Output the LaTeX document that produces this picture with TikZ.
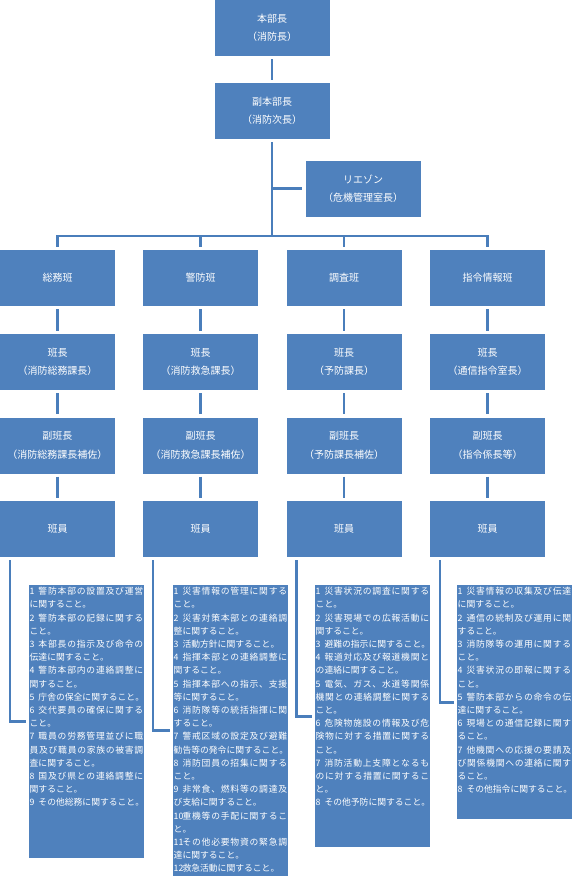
\documentclass[tikz,border=0pt]{standalone}
\usepackage{fontspec}
\setmainfont{Noto Sans CJK JP}
\definecolor{boxblue}{HTML}{4F81BD}
\definecolor{lineblue}{HTML}{4A7EBB}
% justified (spread) line: #1 number, #2 text
\newcommand\jl[2]{\makebox[113.5pt][s]{\makebox[1em][l]{#1}\jlaux#2\relax}}
% justified continuation line without number
\newcommand\jc[1]{\makebox[113.5pt][s]{\jlaux#1\relax}}
\def\jlaux#1#2{#1\ifx#2\relax\else\hfil\expandafter\jlaux\expandafter#2\fi}
% last (ragged) line with number
\newcommand\jn[2]{\makebox[1em][l]{#1}#2}
\begin{document}
\begin{tikzpicture}[x=1pt,y=-1pt,
  box/.style={fill=boxblue, draw=none, text=white, minimum width=115pt, minimum height=56pt, inner sep=0pt, align=center, font=\fontsize{10}{18.5}\selectfont},
  lw/.style={draw=lineblue, line width=2.6pt},
  conn/.style={lw, shorten <=3pt, shorten >=3pt},
  listbox/.style={fill=boxblue, draw=none, minimum width=115pt, inner sep=0pt, anchor=north west},
  listtext/.style={text=white, align=left, inner sep=0pt, anchor=north west, font=\fontsize{8.8}{13.2}\selectfont}
]
\useasboundingbox (0,0) rectangle (571,876);

% top
\node[box] (hb) at (272,28) {本部長\\（消防長）};
\node[box] (fhb) at (272,111) {副本部長\\（消防次長）};
\node[box] (li) at (363,188.5) {リエゾン\\（危機管理室長）};
\coordinate (bar) at (272,236);

% teams
\node[box] (t1) at (57.5,278) {総務班};
\node[box] (t2) at (200.5,278) {警防班};
\node[box] (t3) at (344,278) {調査班};
\node[box] (t4) at (487.5,278) {指令情報班};

\node[box] (h1) at (57.5,362) {班長\\（消防総務課長）};
\node[box] (h2) at (200.5,362) {班長\\（消防救急課長）};
\node[box] (h3) at (344,362) {班長\\（予防課長）};
\node[box] (h4) at (487.5,362) {班長\\（通信指令室長）};

\node[box] (s1) at (57.5,445.5) {副班長\\（消防総務課長補佐）};
\node[box] (s2) at (200.5,445.5) {副班長\\（消防救急課長補佐）};
\node[box] (s3) at (344,445.5) {副班長\\（予防課長補佐）};
\node[box] (s4) at (487.5,445.5) {副班長\\（指令係長等）};

\node[box] (m1) at (57.5,529) {班員};
\node[box] (m2) at (200.5,529) {班員};
\node[box] (m3) at (344,529) {班員};
\node[box] (m4) at (487.5,529) {班員};

% list boxes
\node[listbox, minimum height=273pt] (L1) at (29,585) {};
\node[listbox, minimum height=291pt] (L2) at (173,585) {};
\node[listbox, minimum height=262pt] (L3) at (315,585) {};
\node[listbox, minimum height=234pt] (L4) at (457,585) {};

\node[listtext] (T1) at ([xshift=0.5pt,yshift=-2pt]L1.north west) {%
\jl{1}{警防本部の設置及び運営}\\に関すること。\\
\jl{2}{警防本部の記録に関する}\\こと。\\
\jl{3}{本部長の指示及び命令の}\\伝達に関すること。\\
\jl{4}{警防本部内の連絡調整に}\\関すること。\\
\jn{5}{庁舎の保全に関すること。}\\
\jl{6}{交代要員の確保に関する}\\こと。\\
\jl{7}{職員の労務管理並びに職}\\\jc{員及び職員の家族の被害調}\\査に関すること。\\
\jl{8}{国及び県との連絡調整に}\\関すること。\\
\jn{9}{その他総務に関すること。}};

\node[listtext] (T2) at ([xshift=0.5pt,yshift=-2pt]L2.north west) {%
\jl{1}{災害情報の管理に関する}\\こと。\\
\jl{2}{災害対策本部との連絡調}\\整に関すること。\\
\jn{3}{活動方針に関すること。}\\
\jl{4}{指揮本部との連絡調整に}\\関すること。\\
\jl{5}{指揮本部への指示、支援}\\等に関すること。\\
\jl{6}{消防隊等の統括指揮に関}\\すること。\\
\jl{7}{警戒区域の設定及び避難}\\勧告等の発令に関すること。\\
\jl{8}{消防団員の招集に関する}\\こと。\\
\jl{9}{非常食、燃料等の調達及}\\び支給に関すること。\\
\jl{10}{重機等の手配に関するこ}\\と。\\
\jl{11}{その他必要物資の緊急調}\\達に関すること。\\
\jn{12}{救急活動に関すること。}};

\node[listtext] (T3) at ([xshift=0.5pt,yshift=-2pt]L3.north west) {%
\jl{1}{災害状況の調査に関する}\\こと。\\
\jl{2}{災害現場での広報活動に}\\関すること。\\
\jn{3}{避難の指示に関すること。}\\
\jl{4}{報道対応及び報道機関と}\\の連絡に関すること。\\
\jl{5}{電気、ガス、水道等関係}\\\jc{機関との連絡調整に関する}\\こと。\\
\jl{6}{危険物施設の情報及び危}\\\jc{険物に対する措置に関する}\\こと。\\
\jl{7}{消防活動上支障となるも}\\\jc{のに対する措置に関するこ}\\と。\\
\jn{8}{その他予防に関すること。}};

\node[listtext] (T4) at ([xshift=0.5pt,yshift=-2pt]L4.north west) {%
\jl{1}{災害情報の収集及び伝達}\\に関すること。\\
\jl{2}{通信の統制及び運用に関}\\すること。\\
\jl{3}{消防隊等の運用に関する}\\こと。\\
\jl{4}{災害状況の即報に関する}\\こと。\\
\jl{5}{警防本部からの命令の伝}\\達に関すること。\\
\jl{6}{現場との通信記録に関す}\\ること。\\
\jl{7}{他機関への応援の要請及}\\\jc{び関係機関への連絡に関す}\\ること。\\
\jn{8}{その他指令に関すること。}};

% connectors
\draw[conn] (hb) -- (fhb);
\draw[lw] ([yshift=-3pt]fhb.south) -- (bar);
\draw[lw] (fhb.south |- li.west) -- ([xshift=-3pt]li.west);
\draw[lw] ([yshift=3pt]t1.north) -- (t1.north |- bar) -- (t4.north |- bar) -- ([yshift=3pt]t4.north);
\draw[lw] (t2.north |- bar) -- ([yshift=3pt]t2.north);
\draw[lw] (t3.north |- bar) -- ([yshift=3pt]t3.north);

\foreach \i in {1,2,3,4} {
  \draw[conn] (t\i) -- (h\i);
  \draw[conn] (h\i) -- (s\i);
  \draw[conn] (s\i) -- (m\i);
  \draw[lw] ([xshift=10pt,yshift=-3pt]m\i.south west) |- ([xshift=-3pt]L\i.west);
}
\end{tikzpicture}
\end{document}
